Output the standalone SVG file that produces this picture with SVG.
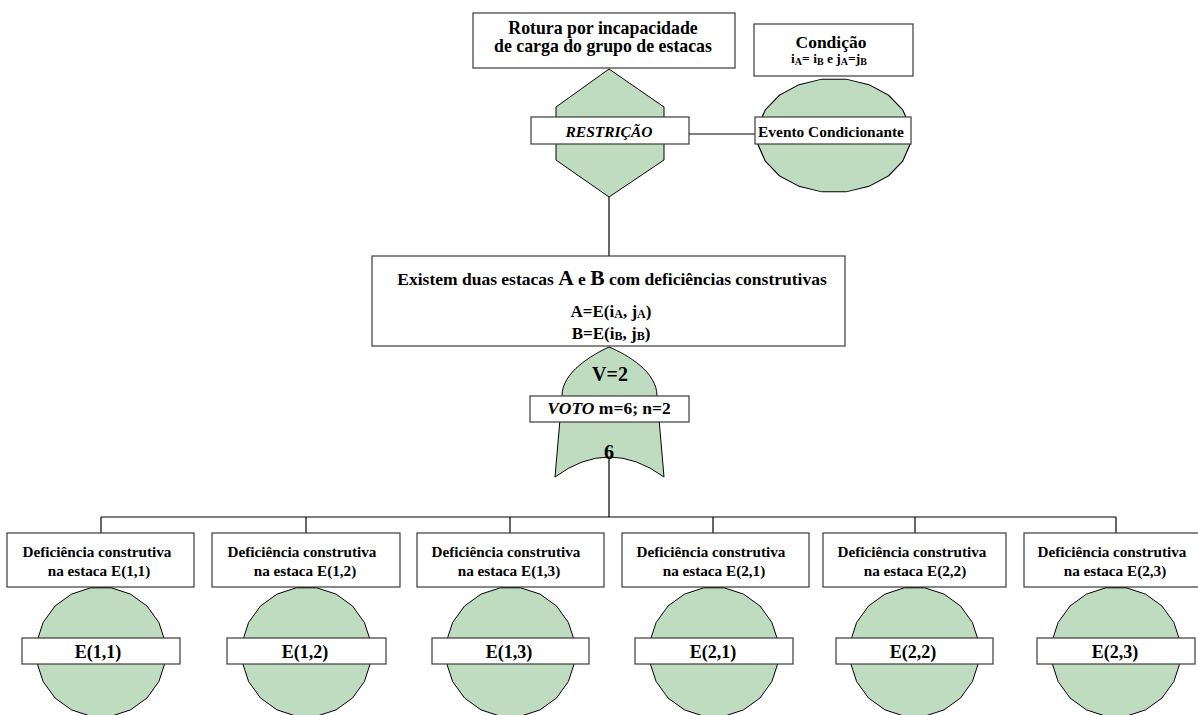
<svg xmlns="http://www.w3.org/2000/svg" xmlns:xlink="http://www.w3.org/1999/xlink" width="1198" height="715" viewBox="0 0 1198 715">
<style>
  text { font-weight: bold; fill: #000; text-anchor: middle; }
  .box { fill: #fff; stroke: #3a3a3a; stroke-width: 1.2; }
  .shape { fill: #c0dcc0; stroke: #000; stroke-width: 1; vector-effect: non-scaling-stroke; }
  .conn { fill: none; stroke: #000; stroke-width: 1.2; }
  .t15 { font-size: 18px; }
  .t14 { font-size: 15.2px; }
</style>
<defs>
  <polygon id="poly20" points="64.2,10.2 57.9,29.5 46,46 29.5,57.9 10.2,64.2 -10.2,64.2 -29.5,57.9 -46,46 -57.9,29.5 -64.2,10.2 -64.2,-10.2 -57.9,-29.5 -46,-46 -29.5,-57.9 -10.2,-64.2 10.2,-64.2 29.5,-57.9 46,-46 57.9,-29.5 64.2,-10.2"/>
</defs>
<rect width="1198" height="715" fill="#fff"/>
<g font-family="Liberation Serif, serif">
<g id="connectors">
  <line class="conn" x1="609" y1="197" x2="609" y2="256"/>
  <line class="conn" x1="689" y1="134" x2="755" y2="134"/>
  <line class="conn" x1="609" y1="455" x2="609" y2="517"/>
  <line class="conn" x1="101" y1="517" x2="1116" y2="517"/>
  <line class="conn" x1="101" y1="517" x2="101" y2="533"/>
  <line class="conn" x1="306" y1="517" x2="306" y2="533"/>
  <line class="conn" x1="510" y1="517" x2="510" y2="533"/>
  <line class="conn" x1="713" y1="517" x2="713" y2="533"/>
  <line class="conn" x1="915" y1="517" x2="915" y2="533"/>
  <line class="conn" x1="1116" y1="517" x2="1116" y2="533"/>
</g>

<g id="top-event">
  <rect class="box" x="473" y="13" width="262" height="55"/>
  <text x="603" y="34" font-size="17.8">Rotura por incapacidade</text>
  <text x="603" y="52" font-size="17.8">de carga do grupo de estacas</text>
</g>

<g id="restricao">
  <polygon class="shape" points="609,69 664,107 664,160 609,197 556,160 556,107"/>
  <rect class="box" x="531" y="117" width="158" height="27"/>
  <text x="609" y="137" font-size="15.5" font-style="italic">RESTRIÇÃO</text>
</g>

<g id="condicao">
  <rect class="box" x="754" y="24" width="159" height="52"/>
  <text x="831" y="48" font-size="17.5">Condição</text>
  <text x="829" y="63" font-size="13.5">i<tspan font-size="10" dy="2">A</tspan><tspan dy="-2">= i</tspan><tspan font-size="10" dy="2">B</tspan><tspan dy="-2"> e j</tspan><tspan font-size="10" dy="2">A</tspan><tspan dy="-2">=j</tspan><tspan font-size="10" dy="2">B</tspan></text>
</g>

<g id="evento-condicionante">
  <use xlink:href="#poly20" class="shape" transform="translate(834,135.5) scale(1.185,0.877)"/>
  <rect class="box" x="755" y="117" width="156" height="27"/>
  <text x="831" y="137" font-size="15.4">Evento Condicionante</text>
</g>

<g id="existem">
  <rect class="box" x="372" y="256" width="473" height="90"/>
  <text x="612" y="285" font-size="17.5">Existem duas estacas <tspan font-size="21.5">A</tspan> e <tspan font-size="21.5">B</tspan> com deficiências construtivas</text>
  <text x="611" y="317" font-size="17">A=E(i<tspan font-size="12" dy="1">A</tspan><tspan dy="-1">, j</tspan><tspan font-size="12" dy="1">A</tspan><tspan dy="-1">)</tspan></text>
  <text x="611" y="339" font-size="17">B=E(i<tspan font-size="12" dy="1">B</tspan><tspan dy="-1">, j</tspan><tspan font-size="12" dy="1">B</tspan><tspan dy="-1">)</tspan></text>
</g>

<g id="voto">
  <path class="shape" d="M609,347 C592,355 562,372 562,396 L555,477 Q609,437 664,477 L657,396 C657,372 628,355 609,347 Z"/>
  <text x="610" y="381" font-size="20">V=2</text>
  <rect class="box" x="530" y="396" width="159" height="26"/>
  <text x="609" y="414" font-size="17.5"><tspan font-style="italic">VOTO</tspan> m=6; n=2</text>
  <text x="609" y="459" font-size="20">6</text>
</g>

<g id="e11">
  <rect class="box" x="7" y="533" width="187" height="54"/>
  <text class="t14" x="97" y="557">Deficiência construtiva</text>
  <text class="t14" x="99" y="576">na estaca E(1,1)</text>
  <use xlink:href="#poly20" class="shape" x="101" y="652"/>
  <rect class="box" x="22" y="638" width="158" height="26"/>
  <text class="t15" x="98" y="658">E(1,1)</text>
</g>

<g id="e12">
  <rect class="box" x="212" y="533" width="188" height="54"/>
  <text class="t14" x="302" y="557">Deficiência construtiva</text>
  <text class="t14" x="305" y="576">na estaca E(1,2)</text>
  <use xlink:href="#poly20" class="shape" x="306.5" y="652"/>
  <rect class="box" x="227" y="638" width="159" height="26"/>
  <text class="t15" x="305" y="658">E(1,2)</text>
</g>

<g id="e13">
  <rect class="box" x="417" y="533" width="187" height="54"/>
  <text class="t14" x="506" y="557">Deficiência construtiva</text>
  <text class="t14" x="509" y="576">na estaca E(1,3)</text>
  <use xlink:href="#poly20" class="shape" x="510.5" y="652"/>
  <rect class="box" x="432" y="638" width="157" height="26"/>
  <text class="t15" x="509" y="658">E(1,3)</text>
</g>

<g id="e21">
  <rect class="box" x="622" y="533" width="187" height="54"/>
  <text class="t14" x="711" y="557">Deficiência construtiva</text>
  <text class="t14" x="714" y="576">na estaca E(2,1)</text>
  <use xlink:href="#poly20" class="shape" x="714" y="652"/>
  <rect class="box" x="635" y="638" width="158" height="26"/>
  <text class="t15" x="713" y="658">E(2,1)</text>
</g>

<g id="e22">
  <rect class="box" x="823" y="533" width="183" height="54"/>
  <text class="t14" x="912" y="557">Deficiência construtiva</text>
  <text class="t14" x="915" y="576">na estaca E(2,2)</text>
  <use xlink:href="#poly20" class="shape" x="914.5" y="652"/>
  <rect class="box" x="836" y="638" width="157" height="26"/>
  <text class="t15" x="913" y="658">E(2,2)</text>
</g>

<g id="e23">
  <rect class="box" x="1024" y="533" width="187" height="54"/>
  <text class="t14" x="1112" y="557">Deficiência construtiva</text>
  <text class="t14" x="1115" y="576">na estaca E(2,3)</text>
  <use xlink:href="#poly20" class="shape" x="1116" y="652"/>
  <rect class="box" x="1037" y="638" width="158" height="26"/>
  <text class="t15" x="1115" y="658">E(2,3)</text>
</g>
</g>
</svg>
